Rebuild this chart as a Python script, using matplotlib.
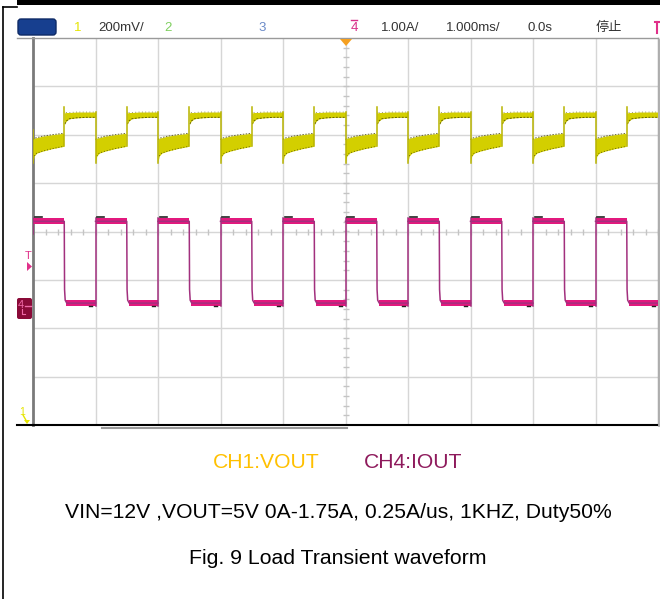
import numpy as np
import matplotlib
matplotlib.use("Agg")
import matplotlib.pyplot as plt
from matplotlib.patches import FancyBboxPatch, Polygon, Rectangle

# ============================================
# Scope settings (header of the screen)
# ============================================
ch1_scale = "200mV/"
ch4_scale = "1.00A/"
time_scale = "1.000ms/"
time_delay = "0.0s"
run_state = "停止"

# ============================================
# Waveform data (x in ms / div, y in divisions)
# ============================================
period_starts = [0, 1, 2, 3, 4, 5, 6, 7, 8, 9]   # 1 kHz, 1 ms/div

# CH1 VOUT: low part while load is on (0..0.5), high part while off (0.5..1)
ch1_low_t = [0.00, 0.02, 0.06, 0.15, 0.30, 0.49]
ch1_low_top = [1.90, 1.93, 1.94, 1.97, 2.00, 2.03]
ch1_low_bot = [1.45, 1.56, 1.62, 1.66, 1.71, 1.76]
ch1_high_t = [0.50, 0.51, 0.53, 0.58, 0.70, 0.85, 1.00]
ch1_high_top = [2.52, 2.45, 2.46, 2.46, 2.47, 2.47, 2.47]
ch1_high_bot = [2.30, 2.22, 2.28, 2.33, 2.35, 2.36, 2.36]
ch1_spike_down = 1.41
ch1_spike_up = 2.57

# CH4 IOUT: 1.75A step, high 0..0.5, low 0.5..1
ch4_t = [0.00, 0.50, 0.505, 0.515, 0.54, 1.00]
ch4_mid = [0.21, 0.21, -1.20, -1.42, -1.48, -1.48]
ch4_high_top, ch4_high_bot = 0.27, 0.15
ch4_low_top, ch4_low_bot = -1.42, -1.55

YEL = "#D3CF00"
YEL_DARK = "#4A4700"
PINK = "#E2197E"
PINK_EDGE = "#A2307E"

W, H = 660, 599
fig = plt.figure(figsize=(W / 100, H / 100), dpi=100)
fig.patch.set_facecolor("white")

# screen area in pixels: x 33..658, y 38..425
sx0, sx1, sy0, sy1 = 33, 658, 38, 425
ax = fig.add_axes([sx0 / W, 1 - sy1 / H, (sx1 - sx0) / W, (sy1 - sy0) / H])
ax.set_xlim(0, 10)
ax.set_ylim(-4, 4)
ax.set_xticks([])
ax.set_yticks([])
ax.set_facecolor("white")

# graticule
for gx in range(1, 10):
    ax.axvline(gx, color="#d6d6d6", lw=1, zorder=0)
for gy in range(-3, 4):
    ax.axhline(gy, color="#d6d6d6", lw=1, zorder=0)
ty = np.arange(-4, 4.01, 0.2)
tx = np.arange(0, 10.01, 0.2)
ax.plot(np.full_like(ty, 5), ty, ls="none", marker="_", ms=4, color="#c4c4c4", zorder=0)
ax.plot(tx, np.zeros_like(tx), ls="none", marker="|", ms=4, color="#c4c4c4", zorder=0)

for side in ["top", "right"]:
    ax.spines[side].set_color("#9a9a9a")
    ax.spines[side].set_linewidth(1)
ax.spines["left"].set_color("#7a7a7a")
ax.spines["left"].set_linewidth(2)
ax.spines["bottom"].set_color("black")
ax.spines["bottom"].set_linewidth(1.5)

# ---- CH1 trace ----
for k in period_starts:
    lt = np.array(ch1_low_t) + k
    ht = np.array(ch1_high_t) + k
    ax.fill_between(lt, ch1_low_bot, ch1_low_top, color=YEL, lw=0, zorder=3)
    ax.fill_between(ht, ch1_high_bot, ch1_high_top, color=YEL, lw=0, zorder=3)
    # dark speckled envelope edges
    ax.plot(lt, ch1_low_top, color=YEL_DARK, lw=0.7, ls=(0, (1.5, 1.5)), alpha=0.8, zorder=4)
    ax.plot(lt[1:], ch1_low_bot[1:], color=YEL_DARK, lw=0.7, ls=(0, (1, 2)), alpha=0.8, zorder=4)
    ax.plot(ht[1:], ch1_high_bot[1:], color=YEL_DARK, lw=0.7, ls=(0, (2, 1.5)), alpha=0.8, zorder=4)
    ax.plot(ht[2:], ch1_high_top[2:], color=YEL_DARK, lw=0.6, ls=(0, (1, 3)), alpha=0.7, zorder=4)
    # edges and spikes
    top_prev = ch1_high_top[-1] if k > 0 else 2.10
    ax.plot([k, k], [top_prev, ch1_spike_down], color="#B8B400", lw=1.1, zorder=4)
    ax.plot([k + 0.5, k + 0.5], [ch1_low_bot[-1], ch1_spike_up], color="#B8B400", lw=1.1, zorder=4)

# ---- CH4 trace ----
for k in period_starts:
    t = np.array(ch4_t) + k
    ax.fill_between([k, k + 0.5], ch4_high_bot, ch4_high_top, color=PINK, lw=0, zorder=3)
    ax.fill_between([k + 0.53, k + 1.0], ch4_low_bot, ch4_low_top, color=PINK, lw=0, zorder=3)
    ax.plot(t, ch4_mid, color=PINK_EDGE, lw=1.1, zorder=4)
    if k > 0:
        ax.plot([k, k], [ch4_low_bot, ch4_high_top], color=PINK_EDGE, lw=1.1, zorder=4)
    ax.plot([k + 0.03, k + 0.14], [0.30, 0.30], color="#222222", lw=1.2, zorder=5)
    ax.plot([k + 0.90, k + 0.95], [-1.54, -1.54], color="#222222", lw=1.0, zorder=5)
ax.plot([0.0, 0.0], [-0.06, ch4_high_top], color=PINK_EDGE, lw=1.1, zorder=4)

# ============================================
# Decorations in pixel coordinates
# ============================================
ov = fig.add_axes([0, 0, 1, 1], zorder=10)
ov.set_xlim(0, W)
ov.set_ylim(H, 0)
ov.axis("off")
ov.patch.set_alpha(0)

# outer frame
ov.add_patch(Rectangle((17, 0), W - 17, 5, color="black", lw=0))
ov.plot([3, 3], [7, H], color="black", lw=1.2)
ov.plot([3, 17], [7, 7], color="black", lw=1.2)
ov.plot([17, sx0], [sy0, sy0], color="#9a9a9a", lw=1)
ov.plot([17, sx0], [sy1, sy1], color="black", lw=1.5)
ov.plot([102, 347], [428, 428], color="#9a9a9a", lw=1.5)
ov.plot([W - 1, W - 1], [40, 425], color="#b0b0b0", lw=2)

# header
ov.add_patch(FancyBboxPatch((18, 19), 38, 16, boxstyle="round,pad=0,rounding_size=3",
                            fc="#173F8F", ec="#0E2A66", lw=1))
hdr = dict(fontsize=9.5, family=["Liberation Sans", "Noto Sans CJK SC"], va="center", ha="left")
ov.text(74, 28, "1", color="#E5E500", **hdr)
ov.text(98, 28, ch1_scale, color="#333333", **hdr)
ov.text(164, 28, "2", color="#7FCF5F", **hdr)
ov.text(258, 28, "3", color="#6A8AC8", **hdr)
ov.text(351, 28, "4", color="#D8308A", **hdr)
ov.plot([351, 357], [20, 20], color="#D8308A", lw=1)
ov.text(381, 28, ch4_scale, color="#333333", **hdr)
ov.text(446, 28, time_scale, color="#333333", **hdr)
ov.text(527, 28, time_delay, color="#333333", **hdr)
ov.text(596, 28, run_state, color="#333333", **hdr)
ov.plot([655, 660], [22, 22], color="#E0308A", lw=1.5)
ov.plot([657, 657], [22, 33], color="#E0308A", lw=1.5)

# trigger position marker
ov.add_patch(Polygon([[340, 39], [352, 39], [346, 46]], closed=True, color="#F5A020", lw=0))

# left side markers
ov.text(28, 256, "T", color="#E0308A", fontsize=8, ha="center", va="center", family="Liberation Sans")
ov.add_patch(Polygon([[27, 262], [27, 271], [32, 266.5]], closed=True, color="#E0308A", lw=0))
ov.add_patch(FancyBboxPatch((17, 298), 15, 21, boxstyle="round,pad=0,rounding_size=2",
                            fc="#8A0A38", ec="#8A0A38", lw=0))
ov.text(21, 305, "4", color="#F06AA8", fontsize=8, ha="center", va="center", family="Liberation Sans")
ov.plot([25, 31], [306, 306], color="#F06AA8", lw=1)
ov.plot([22, 22, 25], [309, 314, 314], color="#F06AA8", lw=0.8)
ov.text(22, 412, "1", color="#E5E500", fontsize=7.5, ha="center", va="center", family="Liberation Sans")
ov.plot([23, 27], [415, 422], color="#E5E500", lw=1)
ov.add_patch(Polygon([[24, 420], [30, 420], [27, 424]], closed=True, color="#E5E500", lw=0))

# captions
cap = dict(family="Liberation Sans", va="center")
ov.text(213, 463, "CH1:VOUT", color="#FFC000", fontsize=15.2, ha="left", **cap)
ov.text(364, 463, "CH4:IOUT", color="#8E1A5C", fontsize=15.2, ha="left", **cap)
ov.text(338, 512, "VIN=12V ,VOUT=5V 0A-1.75A, 0.25A/us, 1KHZ, Duty50%", color="black",
        fontsize=15.2, ha="center", **cap)
ov.text(338, 559, "Fig. 9 Load Transient waveform", color="black", fontsize=15.3, ha="center", **cap)

fig.savefig("out.png", dpi=100)
